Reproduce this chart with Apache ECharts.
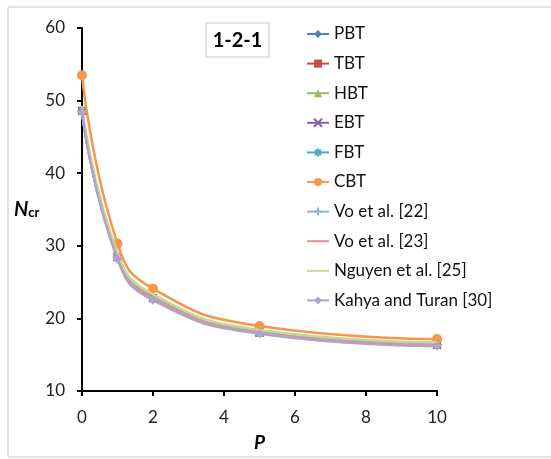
<!DOCTYPE html>
<html>
<head>
<meta charset="utf-8">
<script src="https://cdn.jsdelivr.net/npm/echarts@6/dist/echarts.min.js"></script>
<style>
html,body{margin:0;padding:0;background:#fff;}
#chart{width:551px;height:459px;}
</style>
</head>
<body>
<div id="chart"></div>
<script>
// ---- data ----
const P = [0, 1, 2, 5, 10];
const seriesNames = ["PBT", "TBT", "HBT", "EBT", "FBT", "CBT", "Vo et al. [22]", "Vo et al. [23]", "Nguyen et al. [25]", "Kahya and Turan [30]"];
const PBT    = [48.60, 28.45, 22.80, 18.05, 16.35];
const TBT    = [48.60, 28.44, 22.79, 18.04, 16.34];
const HBT    = [48.70, 28.60, 22.95, 18.15, 16.45];
const EBT    = [48.60, 28.45, 22.80, 18.05, 16.35];
const FBT    = [48.61, 28.46, 22.81, 18.06, 16.36];
const CBT    = [53.50, 30.30, 24.10, 18.95, 17.15];
const Vo22   = [48.60, 28.45, 22.80, 18.05, 16.35];
const Vo23   = [48.59, 28.44, 22.79, 18.04, 16.34];
const Nguyen = [49.20, 29.00, 23.30, 18.40, 16.70];
const Kahya  = [48.40, 28.15, 22.50, 17.90, 16.20];
const xTicks = [0, 2, 4, 6, 8, 10];
const yTicks = [10, 20, 30, 40, 50, 60];

const values = [PBT, TBT, HBT, EBT, FBT, CBT, Vo22, Vo23, Nguyen, Kahya];
const colors = ["#4F81BD", "#C0504D", "#9BBB59", "#8064A2", "#4BACC6", "#F79646", "#95B3D7", "#D99694", "#C3D69B", "#B3A2C7"];
const symbols = [
  "diamond", "rect", "triangle",
  "path://M0,0L10,10M10,0L0,10",
  "path://M0,5L10,5M5,0L5,10M1.5,1.5L8.5,8.5M8.5,1.5L1.5,8.5",
  "circle",
  "path://M0,5L10,5M5,0L5,10",
  "none", "none", "diamond"
];
const sizes = [8, 8, 9, 8, 9, 10, 10, 0, 0, 9];

const FONT = "Lato, 'Open Sans', sans-serif";

const chart = echarts.init(document.getElementById('chart'), null, {renderer: 'canvas'});

const series = seriesNames.map((name, i) => ({
  name: name,
  type: 'line',
  smooth: 0.5,
  data: P.map((p, j) => [p, values[i][j]]),
  symbol: symbols[i],
  symbolSize: sizes[i],
  showSymbol: symbols[i] !== 'none',
  lineStyle: {color: colors[i], width: 2.5},
  itemStyle: {color: colors[i], borderColor: colors[i], borderWidth: (i === 3 || i === 4 || i === 6) ? 1.5 : 0},
  emphasis: {disabled: true},
  z: 2 + i
}));

const legendData = seriesNames.map((name, i) =>
  symbols[i] === 'none'
    ? {name: name, itemStyle: {opacity: 0}}
    : {name: name}
);

chart.setOption({
  animation: false,
  backgroundColor: '#ffffff',
  textStyle: {fontFamily: FONT},
  grid: {left: 82, right: 114, top: 28, bottom: 68, containLabel: false},
  xAxis: {
    type: 'value', min: 0, max: 10, interval: 2,
    name: 'P', nameLocation: 'middle', nameGap: 42,
    nameTextStyle: {fontFamily: FONT, fontSize: 19, fontWeight: 'bold', fontStyle: 'italic', color: '#000'},
    axisLine: {onZero: false, lineStyle: {color: '#000', width: 2}},
    axisTick: {show: true, inside: false, length: 5, lineStyle: {color: '#000', width: 2}},
    axisLabel: {margin: 18, fontSize: 17, color: '#222', fontFamily: FONT,
      formatter: v => xTicks.includes(v) ? String(v) : ''},
    splitLine: {show: false}
  },
  yAxis: {
    type: 'value', min: 10, max: 60, interval: 10,
    axisLine: {show: true, onZero: false, lineStyle: {color: '#000', width: 2}},
    axisTick: {show: true, inside: false, length: 5, lineStyle: {color: '#000', width: 2}},
    axisLabel: {margin: 17, fontSize: 17, color: '#222', fontFamily: FONT,
      formatter: v => yTicks.includes(v) ? String(v) : ''},
    splitLine: {show: false}
  },
  legend: {
    orient: 'vertical', left: 301, top: 20,
    itemWidth: 22, itemHeight: 10, itemGap: 11.6,
    textStyle: {fontFamily: FONT, fontSize: 17, color: '#111', lineHeight: 18},
    data: legendData
  },
  graphic: [
    {type: 'rect', shape: {x: 8, y: 7, width: 600, height: 450},
     style: {fill: 'none', stroke: '#C8C8C8', lineWidth: 1}, silent: true, z: -10},
    {type: 'rect', shape: {x: 206, y: 23, width: 63, height: 34},
     style: {fill: '#fff', stroke: '#C8C8C8', lineWidth: 1}, z: 100},
    {type: 'text', x: 237.5, y: 41,
     style: {text: '1-2-1', font: "bold 20px " + FONT, fill: '#000', align: 'center', verticalAlign: 'middle'}, z: 101},
    {type: 'text', x: 14, y: 200,
     style: {text: '{n|N}{s|cr}', rich: {
       n: {fontFamily: FONT, fontSize: 20, fontWeight: 'bold', fontStyle: 'italic', fill: '#000'},
       s: {fontFamily: FONT, fontSize: 13, fontWeight: 'bold', fill: '#000', padding: [6, 0, 0, 0]}
     }}, z: 101}
  ],
  series: series
});
</script>
</body>
</html>
